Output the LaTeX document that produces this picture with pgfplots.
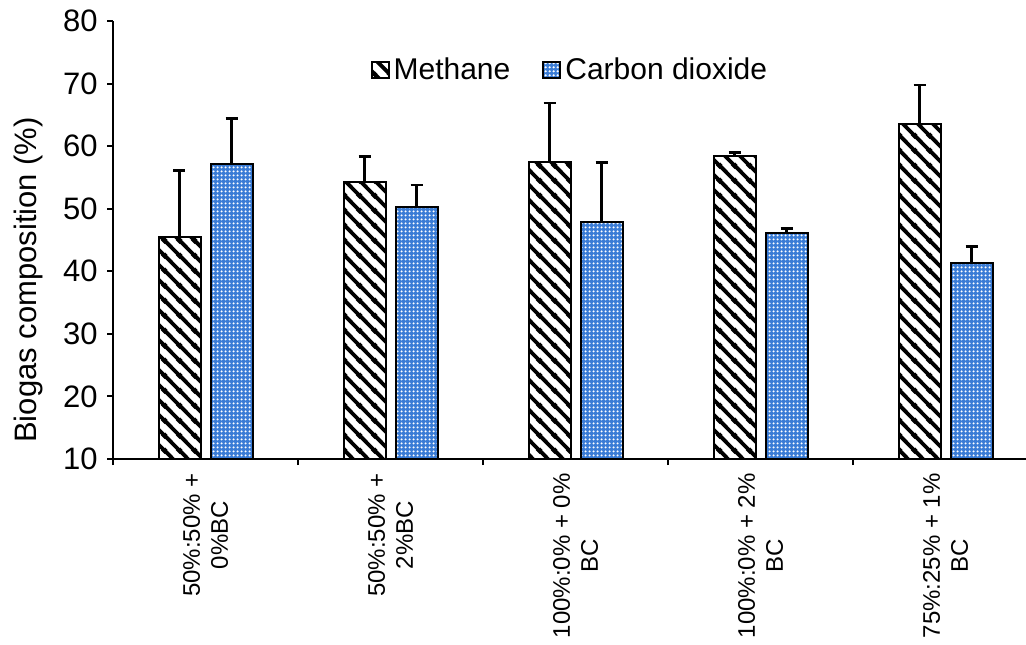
\documentclass[border=0pt]{standalone}
\usepackage{fontspec}
\setmainfont{Liberation Sans}
\usepackage{pgfplots}
\pgfplotsset{compat=1.18}
\usetikzlibrary{patterns.meta}
\definecolor{cobase}{RGB}{58,124,214}
\tikzdeclarepattern{
  name=mystripes,
  type=uncolored,
  bounding box={(0,0) and (7.5pt,7.5pt)},
  tile size={(7.5pt,7.5pt)},
  code={
    \pgfsetlinewidth{2pt}
    \pgfpathmoveto{\pgfqpoint{-1pt}{8.5pt}}\pgfpathlineto{\pgfqpoint{8.5pt}{-1pt}}
    \pgfpathmoveto{\pgfqpoint{-1pt}{1pt}}\pgfpathlineto{\pgfqpoint{1pt}{-1pt}}
    \pgfpathmoveto{\pgfqpoint{6.5pt}{8.5pt}}\pgfpathlineto{\pgfqpoint{8.5pt}{6.5pt}}
    \pgfusepath{stroke}
  }
}
\tikzdeclarepattern{
  name=mydots,
  type=uncolored,
  bounding box={(0,0) and (2pt,2pt)},
  tile size={(2pt,2pt)},
  code={
    \pgfpathcircle{\pgfqpoint{1pt}{1pt}}{0.7pt}
    \pgfusepath{fill}
  }
}
\newcommand\tf{\fontsize{15.5}{18}\selectfont}
\newcommand\xf{\fontsize{12}{14}\selectfont}
\begin{document}
\begin{tikzpicture}
\begin{axis}[
  scale only axis,
  width=462.5pt, height=219pt,
  xmin=-0.5, xmax=4.5,
  ymin=10, ymax=80,
  ytick={10,20,...,80},
  xtick={0,1,2,3,4},
  xticklabels={{50\%:50\% +\\0\%BC},{50\%:50\% +\\2\%BC},{100\%:0\% + 0\%\\BC},{100\%:0\% + 2\%\\BC},{75\%:25\% + 1\%\\BC}},
  minor xtick={-0.5,0.5,1.5,2.5,3.5,4.5},
  major x tick style={draw=none},
  tick align=outside,
  major tick length=3pt,
  minor tick length=3pt,
  tick style={black, line width=1pt},
  axis x line*=bottom,
  axis y line*=left,
  axis line style={-, line width=1.2pt, black},
  /pgf/number format/assume math mode=true,
  yticklabel style={font=\tf, inner sep=0pt, xshift=-4.5pt},
  xticklabel style={font=\xf, inner sep=0pt, yshift=-4pt, rotate=90, anchor=east, align=center},
  ylabel={Biogas composition (\%)},
  ylabel style={font=\tf, at={(axis description cs:-0.0919,0.409)}, anchor=center},
  ybar=5pt,
  bar width=21pt,
  error bars/y dir=plus,
  error bars/y explicit,
  error bars/error bar style={line width=1.3pt, black},
  error bars/error mark options={rotate=90, mark size=3pt, line width=1.3pt, black},
  legend style={draw=none, fill=none, legend columns=-1,
    at={(axis description cs:0.495,0.888)}, anchor=center,
    font=\fontsize{15}{17}\selectfont,
    /tikz/every even column/.append style={column sep=14pt}},
  legend image code/.code={\draw[#1] (0pt,-4pt) rectangle (8.5pt,4pt);},
]
\addplot[draw=black, line width=1pt, fill=white, postaction={pattern=mystripes, pattern color=black}]
  coordinates {(0,45.5) +- (0,10.6) (1,54.2) +- (0,4.1) (2,57.5) +- (0,9.4) (3,58.4) +- (0,0.6) (4,63.5) +- (0,6.3)};
\addplot[draw=black, line width=1pt, fill=cobase, postaction={pattern=mydots, pattern color=white}]
  coordinates {(0,57.1) +- (0,7.3) (1,50.2) +- (0,3.6) (2,47.8) +- (0,9.6) (3,46.1) +- (0,0.7) (4,41.3) +- (0,2.7)};
\legend{Methane, Carbon dioxide}
\end{axis}
\pgfresetboundingbox
\path[use as bounding box] (-56.5pt,-92.5pt) rectangle (456.5pt,229.5pt);
\end{tikzpicture}
\end{document}
